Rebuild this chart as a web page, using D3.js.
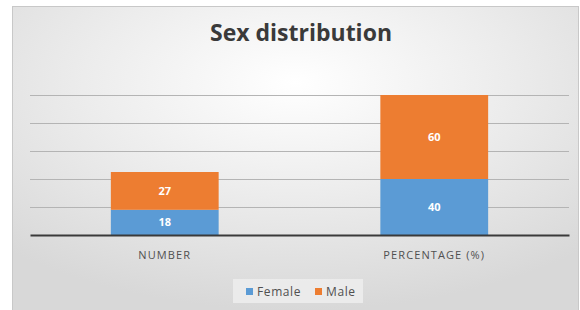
<!DOCTYPE html>
<html>
<head>
<meta charset="utf-8">
<script src="https://cdn.jsdelivr.net/npm/d3@7"></script>
<style>
  body { margin: 0; background: #fff; }
  svg { display: block; }
</style>
</head>
<body>
<div id="chart"></div>
<script>
const WIDTH = 580;
const HEIGHT = 310;

// chart values
const categories = ["NUMBER", "PERCENTAGE (%)"];
const seriesNames = ["Female", "Male"];
const female = [18, 40];
const male = [27, 60];
const yTicks = [0, 20, 40, 60, 80, 100];
const colors = ["#5b9bd5", "#ed7d31"];

let svg = d3.select("#chart").append("svg")
    .attr("width", WIDTH)
    .attr("height", HEIGHT);

// soft radial background like the office chart
let defs = svg.append("defs");
let grad = defs.append("radialGradient")
    .attr("id", "bg")
    .attr("cx", "50%").attr("cy", "25%").attr("r", "75%");
grad.append("stop").attr("offset", "0%").attr("stop-color", "#ffffff");
grad.append("stop").attr("offset", "50%").attr("stop-color", "#ececec");
grad.append("stop").attr("offset", "100%").attr("stop-color", "#d8d8d8");

svg.append("rect")
    .attr("x", 12.5).attr("y", 6.5)
    .attr("width", WIDTH - 14).attr("height", HEIGHT - 6)
    .attr("fill", "url(#bg)")
    .attr("stroke", "#c8c8c8");

svg.append("text")
    .attr("x", 301)
    .attr("y", 41)
    .attr("text-anchor", "middle")
    .style("font-family", "'Open Sans', sans-serif")
    .style("font-weight", "bold")
    .style("font-size", "23px")
    .attr("fill", "#3a3a3a")
    .text("Sex distribution");

// plot area
const plotLeft = 30, plotRight = 569, plotTop = 95, plotBottom = 235;

let x = d3.scaleBand()
    .domain(categories)
    .range([plotLeft, plotRight])
    .paddingInner(0.6)
    .paddingOuter(0.3);

let y = d3.scaleLinear()
    .domain([0, 100])
    .range([plotBottom, plotTop]);

// gridlines
svg.append("g")
    .selectAll("line")
    .data(yTicks.filter(d => d > 0))
    .enter()
    .append("line")
    .attr("x1", plotLeft).attr("x2", plotRight)
    .attr("y1", d => Math.round(y(d)) + 0.5)
    .attr("y2", d => Math.round(y(d)) + 0.5)
    .attr("stroke", "#b4b4b4")
    .attr("stroke-width", 1);

// stack the two series
let rows = categories.map((c, i) => ({ cat: c, Female: female[i], Male: male[i] }));
let stacked = d3.stack().keys(seriesNames)(rows);

let layers = svg.append("g")
    .selectAll("g")
    .data(stacked)
    .enter()
    .append("g")
    .attr("fill", (d, i) => colors[i]);

layers.selectAll("rect")
    .data(d => d)
    .enter()
    .append("rect")
    .attr("x", d => x(d.data.cat))
    .attr("y", d => y(d[1]))
    .attr("width", x.bandwidth())
    .attr("height", d => y(d[0]) - y(d[1]));

layers.selectAll("text")
    .data(d => d)
    .enter()
    .append("text")
    .attr("x", d => x(d.data.cat) + x.bandwidth() / 2)
    .attr("y", d => (y(d[0]) + y(d[1])) / 2 + 4)
    .attr("text-anchor", "middle")
    .attr("fill", "#ffffff")
    .style("font-family", "'Open Sans', sans-serif")
    .style("font-weight", "bold")
    .style("font-size", "11px")
    .text(d => d[1] - d[0]);

// x axis
let xAxis = svg.append("g")
    .attr("transform", `translate(0,${plotBottom})`)
    .call(d3.axisBottom(x).tickSize(0).tickPadding(16));
xAxis.select(".domain")
    .attr("stroke", "#3a3a3a")
    .attr("stroke-width", 2);
xAxis.selectAll("text")
    .attr("fill", "#505050")
    .style("font-family", "'Open Sans', sans-serif")
    .style("font-size", "11px")
    .style("letter-spacing", "1.1px");

// legend
let legend = svg.append("g");
legend.append("rect")
    .attr("x", 233).attr("y", 279)
    .attr("width", 130).attr("height", 24)
    .attr("fill", "#efefef")
    .attr("opacity", 0.8);

let items = legend.selectAll("g")
    .data(seriesNames)
    .enter()
    .append("g")
    .attr("transform", (d, i) => `translate(${i === 0 ? 246 : 315},0)`);
items.append("rect")
    .attr("x", 0).attr("y", 288)
    .attr("width", 7).attr("height", 7)
    .attr("fill", (d, i) => colors[i]);
items.append("text")
    .attr("x", 11).attr("y", 296)
    .attr("fill", "#505050")
    .style("font-family", "'Open Sans', sans-serif")
    .style("font-size", "12px")
    .style("letter-spacing", "0.6px")
    .text(d => d);
</script>
</body>
</html>
